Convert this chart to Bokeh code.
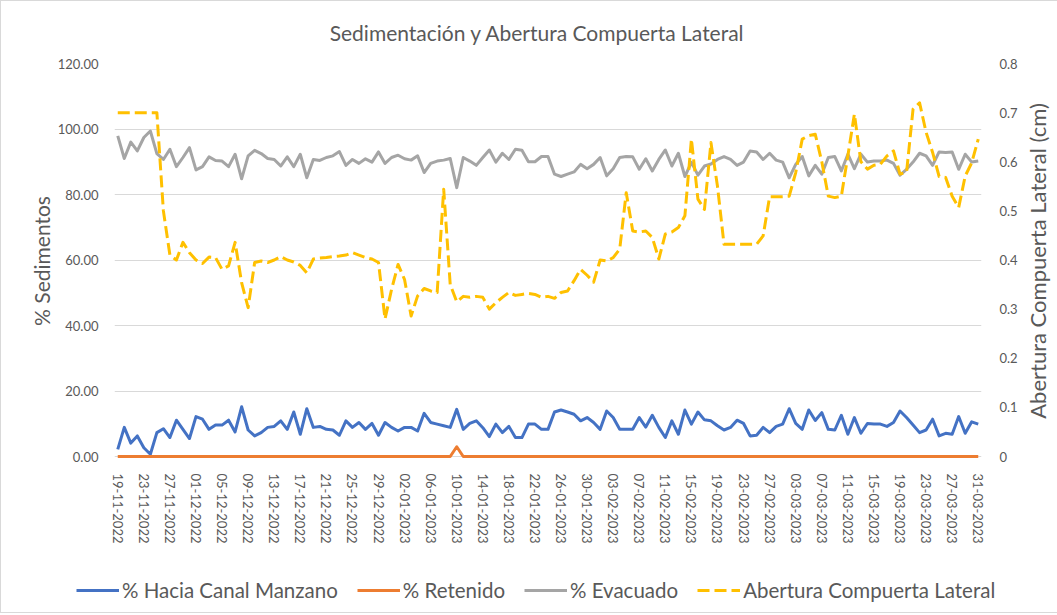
import math
import pandas as pd
from bokeh.plotting import figure
from bokeh.layouts import column, row
from bokeh.models import (Range1d, LinearAxis, FixedTicker, NumeralTickFormatter,
                          Legend, LegendItem, Label)
from bokeh.embed import file_html
from bokeh.resources import INLINE

FONT = "Lato"
TXT = "#595959"

# ---------------- data ----------------
fechas = pd.date_range("2022-11-19", "2023-03-31", freq="D")
dias = list(range(len(fechas)))

etiquetas_x = ["19-11-2022", "23-11-2022", "27-11-2022", "01-12-2022", "05-12-2022",
               "09-12-2022", "13-12-2022", "17-12-2022", "21-12-2022", "25-12-2022",
               "29-12-2022", "02-01-2023", "06-01-2023", "10-01-2023", "14-01-2023",
               "18-01-2023", "22-01-2023", "26-01-2023", "30-01-2023", "03-02-2023",
               "07-02-2023", "11-02-2023", "15-02-2023", "19-02-2023", "23-02-2023",
               "27-02-2023", "03-03-2023", "07-03-2023", "11-03-2023", "15-03-2023",
               "19-03-2023", "23-03-2023", "27-03-2023", "31-03-2023"]

hacia_canal = [2.2, 8.9, 4.1, 6.3, 2.7, 0.7, 7.3, 8.5, 5.8, 11.1, 8.3, 5.5, 12.2, 11.4, 8.3,
               9.6, 9.6, 11.1, 7.5, 15.2, 8.1, 6.3, 7.3, 8.9, 9.2, 10.9, 8.3,
               13.6, 6.8, 14.6, 8.9, 9.2, 8.3, 8.1, 6.5, 10.9, 8.9, 10.4, 8.3, 10.1, 6.5,
               10.4, 8.9, 7.8, 8.9, 8.9, 7.8, 13.2, 10.4, 9.9, 9.4, 8.9, 14.4, 8.3,
               10.1, 10.9, 8.8, 6.1, 9.9, 7.3, 9.2, 5.8, 5.8, 9.9, 9.9, 8.3, 8.3, 13.6,
               14.2, 13.6, 12.9, 10.9, 11.9, 10.4, 8.3, 13.9, 11.9, 8.3, 8.3, 8.3, 11.9,
               9.0, 12.6, 8.9, 5.8, 10.9, 6.8, 14.2, 9.9, 13.6, 11.2, 10.9, 9.4, 8.1,
               8.9, 11.1, 10.1, 6.3, 6.5, 8.9, 7.3, 9.2, 9.9, 14.6, 10.1, 8.3, 14.2, 11.0,
               13.4, 8.3, 8.1, 12.6, 6.8, 11.9, 7.1, 10.1, 9.9, 9.9, 9.2, 10.4, 13.9,
               11.9, 9.6, 7.3, 8.1, 11.4, 6.3, 7.1, 6.8, 12.2, 7.1, 10.6, 9.9]

retenido = [0.0] * 52 + [3.0] + [0.0] * 80

evacuado = [97.9, 91.0, 96.0, 93.3, 97.4, 99.4, 92.5, 90.7, 93.8, 88.5, 91.3, 94.3, 87.5,
            88.5, 91.5, 90.4, 90.2, 88.5, 92.3, 84.8, 91.8, 93.5, 92.5, 91.0, 90.7, 88.7,
            91.5,
            88.5, 92.3, 85.1, 90.7, 90.4, 91.3, 91.8, 93.1, 88.9, 90.7, 89.5, 90.9, 89.9,
            93.0, 89.5, 91.3, 92.0, 90.9, 90.5, 91.8, 86.7, 89.5, 90.2, 90.5, 91.0, 82.1,
            91.3,
            90.2, 88.9, 91.3, 93.6, 89.9, 92.6, 90.7, 93.8, 93.5, 90.0, 90.0, 91.6, 91.6,
            86.2, 85.5, 86.2, 86.9, 89.2, 87.9, 89.2, 91.3, 85.7, 87.9, 91.3, 91.6, 91.5,
            87.7,
            90.9, 87.2, 90.7, 93.6, 88.7, 92.6, 85.5, 89.8, 85.9, 88.7, 89.3, 90.7, 91.6,
            90.7, 88.9, 89.9, 93.3, 93.0, 90.7, 92.6, 90.5, 89.9, 85.1, 89.2, 91.6, 85.7,
            88.9,
            86.2, 91.3, 91.6, 87.2, 92.3, 87.9, 92.3, 89.9, 90.2, 90.2, 90.5, 89.5, 85.9,
            87.7, 89.9, 92.6, 91.8, 88.9, 93.0, 92.8, 93.0, 87.7, 92.3, 89.9, 90.2]

abertura = [0.70, 0.70, 0.70, 0.70, 0.70, 0.70, 0.70, 0.50, 0.41, 0.40, 0.436, 0.415, 0.40,
            0.393, 0.406, 0.405, 0.381, 0.388, 0.436, 0.354, 0.303, 0.395, 0.398, 0.395,
            0.40, 0.407, 0.40,
            0.396, 0.389, 0.374, 0.402, 0.404, 0.405, 0.407, 0.408, 0.41, 0.415, 0.41,
            0.405, 0.402, 0.395, 0.28, 0.34, 0.391, 0.36, 0.286, 0.327, 0.342, 0.337,
            0.334, 0.544, 0.35, 0.315, 0.326,
            0.324, 0.326, 0.324, 0.30, 0.313, 0.324, 0.334, 0.328, 0.33, 0.332, 0.33,
            0.324, 0.326, 0.322, 0.334, 0.337, 0.358, 0.381, 0.369, 0.355, 0.40, 0.398,
            0.405, 0.422, 0.537, 0.459, 0.457,
            0.459, 0.446, 0.402, 0.453, 0.457, 0.466, 0.49, 0.646, 0.524, 0.503, 0.639,
            0.55, 0.432, 0.432, 0.432, 0.432, 0.432, 0.432, 0.449, 0.529, 0.529, 0.529,
            0.53, 0.578, 0.646, 0.653, 0.656,
            0.60, 0.53, 0.527, 0.53, 0.612, 0.697, 0.60, 0.585, 0.593, 0.595, 0.612,
            0.622, 0.575, 0.578, 0.707, 0.72, 0.66, 0.619, 0.57, 0.568, 0.53, 0.507,
            0.571, 0.598, 0.646]

ticks_izq = [0, 20, 40, 60, 80, 100, 120]
ticks_der = [0, 0.1, 0.2, 0.3, 0.4, 0.5, 0.6, 0.7, 0.8]

TITULO = "Sedimentación y Abertura Compuerta Lateral"
TITULO_DER = "Abertura Compuerta Lateral (cm)"
series = [("% Hacia Canal Manzano", "#4472C4", "solid"),
          ("% Retenido", "#ED7D31", "solid"),
          ("% Evacuado", "#A5A5A5", "solid"),
          ("Abertura Compuerta Lateral", "#FFC000", "12 5")]
valores = [hacia_canal, retenido, evacuado, abertura]

TOP, FH, BOT = 12, 395, 102

# ---------------- title strip ----------------
t = figure(width=1050, height=50, x_range=Range1d(0, 1050), y_range=Range1d(0, 50),
           x_axis_type=None, y_axis_type=None, output_backend="svg",
           toolbar_location=None, min_border=0)
t.outline_line_color = None
t.grid.visible = False
t.add_layout(Label(x=536, y=19, text=TITULO, text_align="center", text_baseline="middle",
                   text_font=FONT, text_font_size="21px", text_color=TXT))

# ---------------- main figure ----------------
p = figure(frame_width=867, frame_height=FH,
           x_range=Range1d(-0.5, len(dias) - 0.5), y_range=Range1d(-0.6, 120),
           output_backend="svg", toolbar_location=None,
           min_border_left=113, min_border_right=30, min_border_top=TOP,
           min_border_bottom=BOT)
p.outline_line_color = None
p.extra_y_ranges = {"r": Range1d(-0.004, 0.8)}

p.xgrid.visible = False
p.ygrid.ticker = FixedTicker(ticks=ticks_izq)
p.ygrid.grid_line_color = "#D9D9D9"
p.ygrid.grid_line_width = 1

ya = p.yaxis[0]
ya.ticker = FixedTicker(ticks=ticks_izq)
ya.formatter = NumeralTickFormatter(format="0.00")
ya.axis_line_color = None
ya.major_tick_line_color = None
ya.minor_tick_line_color = None
ya.major_label_text_font = FONT
ya.major_label_text_font_size = "13px"
ya.major_label_text_color = TXT
ya.major_label_standoff = 10
ya.axis_label = "% Sedimentos"
ya.axis_label_text_font = FONT
ya.axis_label_text_font_size = "21px"
ya.axis_label_text_font_style = "normal"
ya.axis_label_text_color = TXT
ya.axis_label_standoff = 1

ra = LinearAxis(y_range_name="r", ticker=FixedTicker(ticks=ticks_der),
                formatter=NumeralTickFormatter(format="0.[0]"))
ra.axis_line_color = None
ra.major_tick_line_color = None
ra.minor_tick_line_color = None
ra.major_label_text_font = FONT
ra.major_label_text_font_size = "13px"
ra.major_label_text_color = TXT
ra.major_label_standoff = 12
p.add_layout(ra, "right")

xa = p.xaxis[0]
xa.ticker = FixedTicker(ticks=list(range(0, len(dias), 4)))
xa.major_label_overrides = {i * 4: lab for i, lab in enumerate(etiquetas_x)}
xa.major_label_orientation = "vertical"
xa.major_tick_line_color = None
xa.minor_tick_line_color = None
xa.axis_line_color = None
xa.major_label_text_font = FONT
xa.major_label_text_font_size = "13px"
xa.major_label_text_color = TXT
xa.major_label_standoff = 9

for (nombre, color, dash), ys in zip(series, valores):
    kw = {"y_range_name": "r"} if ys is abertura else {}
    p.line(dias, ys, line_color=color, line_width=3, line_join="round",
           line_dash=dash, **kw)

# ---------------- right axis title (reads bottom to top) ----------------
d = figure(width=40, height=TOP + FH + BOT, x_range=Range1d(0, 1), y_range=Range1d(0, 1),
           output_backend="svg", toolbar_location=None,
           min_border_left=28, min_border_right=0, min_border_top=TOP,
           min_border_bottom=BOT, x_axis_location=None)
d.outline_line_color = None
d.grid.visible = False
da = d.yaxis[0]
da.axis_label = TITULO_DER
da.axis_label_text_font = FONT
da.axis_label_text_font_size = "22px"
da.axis_label_text_font_style = "normal"
da.axis_label_text_color = TXT
da.axis_label_standoff = 0
da.major_label_text_font_size = "0px"
da.major_label_standoff = 0
da.major_tick_line_color = None
da.minor_tick_line_color = None
da.axis_line_color = None
da.ticker = FixedTicker(ticks=[])

# ---------------- legend strip ----------------
# the same series are drawn here outside the visible range, only to feed the legend
lg = figure(width=1050, height=52, x_range=Range1d(-2000, -1999), y_range=Range1d(0, 1),
            x_axis_type=None, y_axis_type=None, output_backend="svg",
            toolbar_location=None, min_border=0)
lg.outline_line_color = None
lg.grid.visible = False
items = []
for (nombre, color, dash), ys in zip(series, valores):
    r = lg.line(dias, ys, line_color=color, line_width=3, line_dash=dash)
    items.append(LegendItem(label=nombre, renderers=[r]))
legend = Legend(items=items, orientation="horizontal", location=(75, 10))
legend.border_line_color = None
legend.background_fill_alpha = 0
legend.label_text_font = FONT
legend.label_text_font_size = "20.5px"
legend.label_text_color = TXT
legend.glyph_width = 43
legend.glyph_height = 20
legend.spacing = 19
legend.label_standoff = 3
legend.padding = 0
legend.margin = 0
lg.add_layout(legend, "center")

layout = column(t, row(p, d, spacing=0), lg, spacing=0)
layout.styles = {"border": "1px solid #D9D9D9"}

open("out.html", "w").write(file_html(layout, INLINE))
